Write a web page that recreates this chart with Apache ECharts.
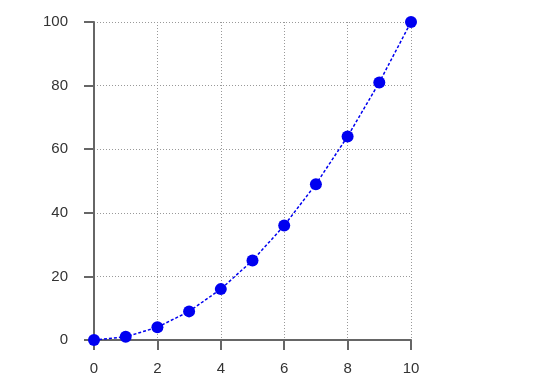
<!DOCTYPE html>
<html><head><meta charset="utf-8">
<script src="https://cdn.jsdelivr.net/npm/echarts@6/dist/echarts.min.js"></script>
<style>html,body{margin:0;padding:0;background:#fff}#c{width:550px;height:388px}</style>
</head><body><div id="c"></div>
<script>
const xValues = [0,1,2,3,4,5,6,7,8,9,10];
const yValues = [0,1,4,9,16,25,36,49,64,81,100];
const chart = echarts.init(document.getElementById('c'), null, {renderer:'canvas'});
function axisOpts(margin){
  return {
    axisLine:{show:true,onZero:false,lineStyle:{color:'#666',width:2}},
    axisTick:{show:true,inside:false,length:10,lineStyle:{color:'#666',width:2}},
    splitLine:{show:true,lineStyle:{color:'#999',type:[1,2],width:1}},
    axisLabel:{color:'#333',fontSize:15,margin:margin,fontFamily:'Liberation Sans, Arial, sans-serif'}
  };
}
chart.setOption({
  animation:false,
  grid:{left:94,right:139,top:22,bottom:48,containLabel:false},
  xAxis:Object.assign({type:'value',min:0,max:10,interval:2}, axisOpts(21)),
  yAxis:Object.assign({type:'value',min:0,max:100,interval:20}, axisOpts(26)),
  series:[{
    type:'line',
    data:xValues.map((x,i)=>[x,yValues[i]]),
    symbol:'circle',symbolSize:12,
    itemStyle:{color:'#0000f0'},
    lineStyle:{color:'#0000f0',width:1.5,type:[3,2]}
  }]
});
</script></body></html>
